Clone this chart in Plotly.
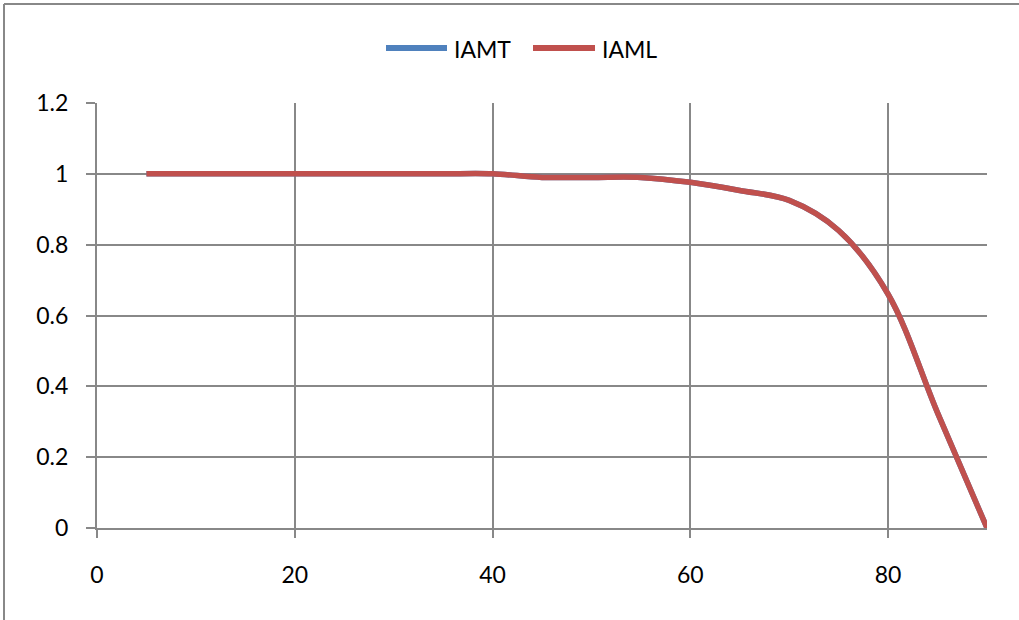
import plotly.graph_objects as go

angles = [5, 10, 15, 20, 25, 30, 35, 40, 45, 50, 55, 60, 65, 70, 75, 80, 85, 90]
iamt = [1, 1, 1, 1, 1, 1, 1, 1, 0.99, 0.99, 0.99, 0.976, 0.953, 0.925, 0.84, 0.66, 0.325, 0]
iaml = [1, 1, 1, 1, 1, 1, 1, 1, 0.99, 0.99, 0.99, 0.976, 0.953, 0.925, 0.84, 0.66, 0.325, 0]
series_names = ["IAMT", "IAML"]
series_colors = ["#4F81BD", "#C0504D"]

W, H = 1019, 620
L, R, T, B = 97, 32, 103, 92
pw, ph = W - L - R, H - T - B

def px_x(p):
    return (p - L) / pw

def px_y(p):
    return (H - B - p) / ph

grid = "#888888"
font = dict(family="Lato, 'Open Sans', sans-serif", size=23, color="#000000")

fig = go.Figure()
for name, ys, col in zip(series_names, [iamt, iaml], series_colors):
    fig.add_trace(go.Scatter(x=angles, y=ys, name=name, mode="lines",
                             line=dict(color=col, width=5.5, shape="spline", smoothing=1),
                             showlegend=False))

shapes = [
    dict(type="line", xref="paper", yref="paper", x0=px_x(4), x1=px_x(4), y0=px_y(4), y1=px_y(H + 10),
         line=dict(color=grid, width=2)),
    dict(type="line", xref="paper", yref="paper", x0=px_x(4), x1=px_x(W + 10), y0=px_y(4), y1=px_y(4),
         line=dict(color=grid, width=2)),
]
annotations = []
legend_items = [(386, 447, 452), (533, 595, 600)]
for (x0, x1, tx), name, col in zip(legend_items, series_names, series_colors):
    shapes.append(dict(type="line", xref="paper", yref="paper", x0=px_x(x0), x1=px_x(x1),
                       y0=px_y(48), y1=px_y(48), line=dict(color=col, width=6)))
    annotations.append(dict(text=name, xref="paper", yref="paper", x=px_x(tx), y=px_y(49),
                            xanchor="left", yanchor="middle", showarrow=False, font=font))

fig.update_layout(
    width=W, height=H,
    margin=dict(l=L, r=R, t=T, b=B),
    paper_bgcolor="white", plot_bgcolor="white",
    font=font,
    shapes=shapes, annotations=annotations,
    xaxis=dict(range=[0, 90], tick0=0, dtick=20, showgrid=True, gridcolor=grid, gridwidth=2,
               showline=True, linecolor=grid, linewidth=2, ticks="outside", ticklen=8,
               tickwidth=2, tickcolor=grid, zeroline=False, ticklabelstandoff=17,
               fixedrange=True),
    yaxis=dict(range=[0, 1.2], tick0=0, dtick=0.2, showgrid=True, gridcolor=grid, gridwidth=2,
               showline=True, linecolor=grid, linewidth=2, ticks="outside", ticklen=9,
               tickwidth=2, tickcolor=grid, zeroline=False, ticklabelstandoff=13,
               fixedrange=True),
)
fig.write_html("out.html")
